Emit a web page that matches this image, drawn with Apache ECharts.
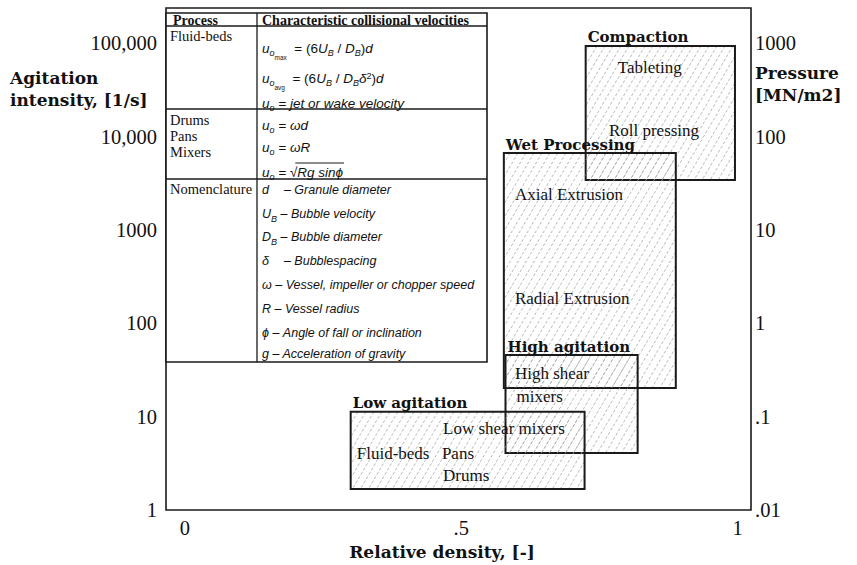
<!DOCTYPE html>
<html>
<head>
<meta charset="utf-8">
<script src="https://cdn.jsdelivr.net/npm/echarts@6/dist/echarts.min.js"></script>
<style>
  html, body { margin: 0; padding: 0; background: #fff; }
  #main { width: 857px; height: 565px; }
</style>
</head>
<body>
<div id="main"></div>
<script>
// process regions: relative density range [-] and agitation intensity range [1/s]
var regionNames = ['Compaction', 'Wet Processing', 'High agitation', 'Low agitation'];
var regionDensity = [[0.725, 0.995], [0.577, 0.888], [0.580, 0.819], [0.300, 0.723]];
var regionAgitation = [[3440, 94000], [20.3, 6700], [4.08, 45.8], [1.68, 11.3]];

// labels written inside the regions (left end of the text)
var procNames = ['Tableting', 'Roll pressing', 'Axial Extrusion', 'Radial Extrusion',
  'High shear', 'mixers', 'Low shear mixers', 'Fluid-beds', 'Pans', 'Drums'];
var procDensity = [0.783, 0.767, 0.597, 0.597, 0.597, 0.600, 0.467, 0.311, 0.465, 0.467];
var procAgitation = [54600, 11800, 2380, 187, 28.7, 16.3, 7.4, 4.08, 4.08, 2.37];

// axis ticks
var agitationTicks = [1, 10, 100, 1000, 10000, 100000];
var agitationLabels = ['1', '10', '100', '1000', '10,000', '100,000'];
var pressureTicks = [0.01, 0.1, 1, 10, 100, 1000];
var pressureLabels = ['.01', '.1', '1', '10', '100', '1000'];
var densityTicks = [0, 0.5, 1];
var densityLabels = ['0', '.5', '1'];

// table in the upper left corner
var tableHead = ['Process', 'Characteristic collisional velocities'];
var tableProcess = ['Fluid-beds', 'Drums\nPans\nMixers', 'Nomenclature'];
var velocityRows = [
  '{m|u}{s|o}{ss|max}{r|  = (6}{m|U}{s|B}{r| / }{m|D}{s|B}{r|)}{m|d}',
  '{m|u}{s|o}{ss|avg}{r|  = (6}{m|U}{s|B}{r| / }{m|D}{s|B}{m|δ}{sup|2}{r|)}{m|d}',
  '{m|u}{s|o}{m| = jet or wake velocity}',
  '{m|u}{s|o}{m| = ωd}',
  '{m|u}{s|o}{m| = ωR}',
  '{m|u}{s|o}{m| = √Rg sinϕ}'
];
var nomenclatureRows = [
  '{n|d}{gap|}{n|– Granule diameter}',
  '{n|U}{s|B}{n| – Bubble velocity}',
  '{n|D}{s|B}{n| – Bubble diameter}',
  '{n|δ}{gap|}{n|– Bubblespacing}',
  '{n|ω – Vessel, impeller or chopper speed}',
  '{n|R – Vessel radius}',
  '{n|ϕ – Angle of fall or inclination}',
  '{n|g – Acceleration of gravity}'
];

var serif = '"Liberation Serif", "Times New Roman", serif';
var boldSerif = '"DejaVu Serif", serif';
var sans = '"Liberation Sans", Arial, sans-serif';

var chart = echarts.init(document.getElementById('main'), null, { renderer: 'svg' });

// dashed diagonal hatching clipped to a rectangle
function hatch(x0, y0, x1, y1) {
  var k = 1.7, sp = 8, out = [];
  var c = Math.ceil((x0 + y0 / k) / sp) * sp;
  for (; c < x1 + y1 / k; c += sp) {
    var ya = Math.max(y0, k * (c - x1));
    var yb = Math.min(y1, k * (c - x0));
    if (yb - ya < 1) continue;
    out.push({
      type: 'line',
      shape: { x1: c - ya / k, y1: ya, x2: c - yb / k, y2: yb },
      style: { stroke: '#a8a8a8', lineWidth: 0.8, lineDash: [3, 2] }
    });
  }
  return out;
}

function renderRegion(params, api) {
  var tl = api.coord([api.value(0), api.value(3)]);
  var br = api.coord([api.value(1), api.value(2)]);
  var x0 = tl[0], y0 = tl[1], x1 = br[0], y1 = br[1];
  var children = hatch(x0, y0, x1, y1);
  children.push({
    type: 'rect',
    shape: { x: x0, y: y0, width: x1 - x0, height: y1 - y0 },
    style: { fill: 'none', stroke: '#1a1a1a', lineWidth: 2 }
  });
  children.push({
    type: 'text',
    style: {
      text: regionNames[params.dataIndex], x: x0 + 2, y: y0 - 1,
      verticalAlign: 'bottom', fill: '#111',
      font: 'bold 15px ' + boldSerif
    }
  });
  return { type: 'group', children: children };
}

function renderProc(params, api) {
  var p = api.coord([api.value(0), api.value(1)]);
  return {
    type: 'text',
    style: {
      text: procNames[params.dataIndex], x: p[0], y: p[1],
      verticalAlign: 'middle', align: 'left', fill: '#111',
      font: '17px ' + serif
    }
  };
}

var regionData = regionDensity.map(function (d, i) {
  return [d[0], d[1], regionAgitation[i][0], regionAgitation[i][1]];
});
var procData = procDensity.map(function (d, i) { return [d, procAgitation[i]]; });

// rich styles for the formulas
var fs = 13.5;
var rich = {
  m: { fontFamily: sans, fontStyle: 'italic', fontSize: fs, lineHeight: 16, verticalAlign: 'top', fill: '#111' },
  n: { fontFamily: sans, fontStyle: 'italic', fontSize: 12.5, lineHeight: 16, verticalAlign: 'top', fill: '#111' },
  r: { fontFamily: sans, fontSize: fs, lineHeight: 16, verticalAlign: 'top', fill: '#111' },
  s: { fontFamily: sans, fontStyle: 'italic', fontSize: 9, lineHeight: 10, padding: [7, 0, 0, 0], verticalAlign: 'top', fill: '#111' },
  ss: { fontFamily: sans, fontSize: 6.5, lineHeight: 7, padding: [13, 0, 0, 0], verticalAlign: 'top', fill: '#111' },
  sup: { fontFamily: sans, fontSize: 9, lineHeight: 8, verticalAlign: 'top', fill: '#111' },
  gap: { width: 15, lineHeight: 16, verticalAlign: 'top' }
};

// measure text to place the bar over the square root
var ctx = document.createElement('canvas').getContext('2d');
function textWidth(t, font) { ctx.font = font; return ctx.measureText(t).width; }

var T = { left: 166, top: 13, right: 487, bottom: 362, col: 257 };
var rowLines = [26, 109, 179];
var velocityY = [47, 77, 102, 124, 146, 171];
var nomenY = [189, 213, 236, 260, 284, 308, 332, 353];

var graphic = [];
function hline(y, x1, x2, w) {
  graphic.push({ type: 'line', shape: { x1: x1, y1: y, x2: x2, y2: y }, style: { stroke: '#1a1a1a', lineWidth: w } });
}
graphic.push({
  type: 'rect', shape: { x: T.left, y: T.top, width: T.right - T.left, height: T.bottom - T.top },
  style: { fill: '#fff', stroke: '#1a1a1a', lineWidth: 1.6 }
});
rowLines.forEach(function (y) { hline(y, T.left, T.right, 1.3); });
graphic.push({ type: 'line', shape: { x1: T.col, y1: T.top, x2: T.col, y2: T.bottom }, style: { stroke: '#1a1a1a', lineWidth: 1.3 } });
graphic.push({ type: 'text', style: { text: tableHead[0], x: 173, y: 20, verticalAlign: 'middle', font: 'bold 14px ' + serif, fill: '#111' } });
graphic.push({ type: 'text', style: { text: tableHead[1], x: 262, y: 20, verticalAlign: 'middle', font: 'bold 14px ' + serif, fill: '#111' } });
[36, 136, 189].forEach(function (y, i) {
  graphic.push({ type: 'text', style: { text: tableProcess[i], x: 170, y: y, verticalAlign: 'middle', font: '14.5px ' + serif, lineHeight: 16, fill: '#111' } });
});
velocityRows.forEach(function (t, i) {
  graphic.push({ type: 'text', style: { text: t, rich: rich, x: 262, y: velocityY[i] + 2, verticalAlign: 'middle' } });
});
var rootStart = 262 + textWidth('u', 'italic ' + fs + 'px ' + sans) +
  textWidth('o', 'italic 9px ' + sans) + textWidth(' = √', 'italic ' + fs + 'px ' + sans) - 2;
var rootEnd = rootStart + 2 + textWidth('Rg sinϕ', 'italic ' + fs + 'px ' + sans) + 1;
hline(velocityY[5] - 8, rootStart, rootEnd, 1);
nomenclatureRows.forEach(function (t, i) {
  graphic.push({ type: 'text', style: { text: t, rich: rich, x: 262, y: nomenY[i] + 2, verticalAlign: 'middle' } });
});

// axis titles
var titleFont = 'bold 17px ' + boldSerif;
graphic.push({ type: 'text', style: { text: 'Agitation\nintensity, [1/s]', x: 10, y: 89, lineHeight: 22, verticalAlign: 'middle', font: titleFont, fill: '#111' } });
graphic.push({ type: 'text', style: { text: 'Pressure\n[MN/m2]', x: 755, y: 84, lineHeight: 22, verticalAlign: 'middle', font: titleFont, fill: '#111' } });
graphic.push({ type: 'text', style: { text: 'Relative density, [-]', x: 442, y: 552, align: 'center', verticalAlign: 'middle', font: titleFont, fill: '#111' } });

var tickFont = { fontFamily: serif, fontSize: 20.5, color: '#111' };

var option = {
  backgroundColor: '#fff',
  animation: false,
  grid: { left: 166, right: 106, top: 8, bottom: 55, show: true, borderColor: '#1a1a1a', borderWidth: 1.6 },
  xAxis: {
    type: 'value', min: -0.034, max: 1.024,
    axisLine: { show: false }, axisTick: { show: false }, splitLine: { show: false },
    axisLabel: Object.assign({
      customValues: densityTicks, margin: 7,
      formatter: function (v) { return densityLabels[densityTicks.indexOf(v)]; }
    }, tickFont)
  },
  yAxis: [{
    type: 'log', logBase: 10, min: 1, max: 240000,
    axisLine: { show: false }, axisTick: { show: false }, splitLine: { show: false },
    axisLabel: Object.assign({
      customValues: agitationTicks, margin: 9,
      formatter: function (v) {
        var i = agitationTicks.findIndex(function (t) { return Math.abs(t - v) / t < 1e-6; });
        return i < 0 ? '' : agitationLabels[i];
      }
    }, tickFont)
  }, {
    type: 'log', logBase: 10, min: 0.01, max: 2400, position: 'right',
    axisLine: { show: false }, axisTick: { show: false }, splitLine: { show: false },
    axisLabel: Object.assign({
      customValues: pressureTicks, margin: 4,
      formatter: function (v) {
        var i = pressureTicks.findIndex(function (t) { return Math.abs(t - v) / t < 1e-6; });
        return i < 0 ? '' : pressureLabels[i];
      }
    }, tickFont)
  }],
  graphic: graphic,
  series: [{
    type: 'custom', name: 'regions', clip: false,
    renderItem: renderRegion,
    encode: { x: [0, 1], y: [2, 3] },
    data: regionData, z: 2
  }, {
    type: 'custom', name: 'processes', clip: false,
    renderItem: renderProc,
    encode: { x: 0, y: 1 },
    data: procData, z: 3
  }]
};

chart.setOption(option);
</script>
</body>
</html>
